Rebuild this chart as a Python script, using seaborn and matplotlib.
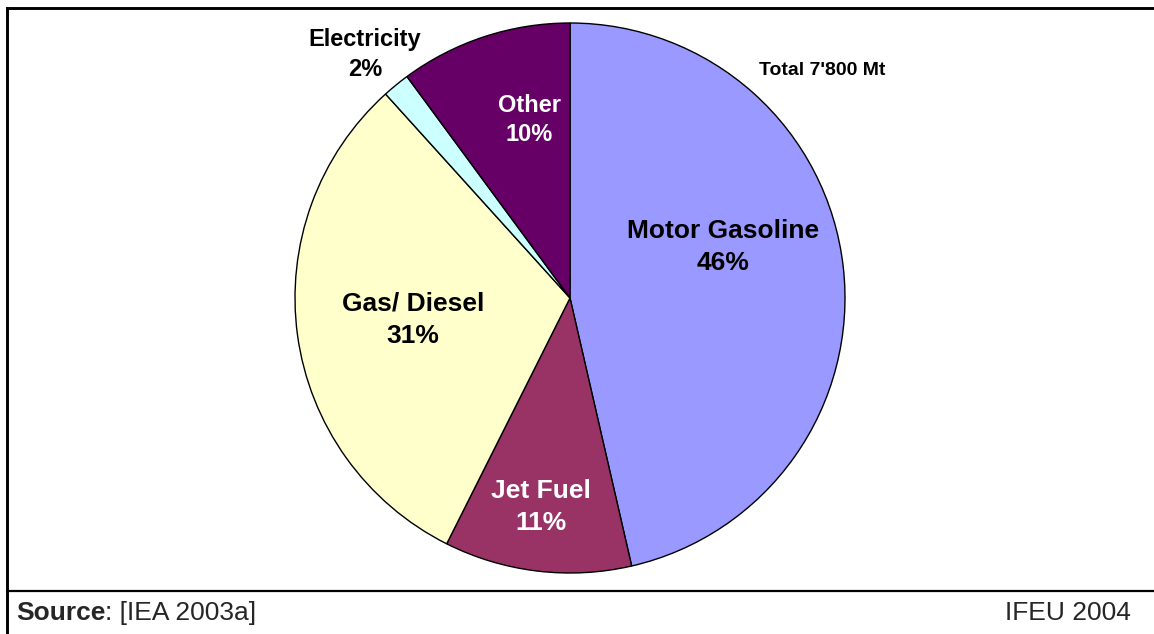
import matplotlib
matplotlib.use("Agg")
import matplotlib.pyplot as plt
import seaborn as sns
from matplotlib.lines import Line2D

categories = ["Motor Gasoline", "Jet Fuel", "Gas/ Diesel", "Electricity", "Other"]
shares = [46.4, 11.0, 30.9, 1.6, 10.1]
colors = ["#9999FF", "#993366", "#FFFFCC", "#CCFFFF", "#660066"]
label_colors = ["black", "white", "black", "black", "white"]
total_label = "Total 7'800 Mt"
source_bold = "Source"
source_rest = ": [IEA 2003a]"
credit = "IFEU 2004"

sns.set_theme(style="white")
plt.rcParams["font.family"] = ["Liberation Sans", "DejaVu Sans"]

W, H = 1154, 634
fig = plt.figure(figsize=(W / 100, H / 100), dpi=100)
fig.patch.set_facecolor("white")

# pie axes: centre (570, 298), radius 275 px
cx, cy, r = 570, 298, 275
ax = fig.add_axes([(cx - r) / W, (H - cy - r) / H, 2 * r / W, 2 * r / H])
ax.pie(shares, colors=colors, startangle=90, counterclock=False,
       radius=1.0, wedgeprops=dict(edgecolor="black", linewidth=1.0))
ax.set_xlim(-1.0, 1.0)
ax.set_ylim(-1.0, 1.0)
ax.set_aspect("auto")
ax.axis("off")

# label positions (in pie radius units) and sizes
label_pos = [(0.556, 0.185), (-0.105, -0.76), (-0.571, -0.08), (-0.745, 0.884), (-0.149, 0.647)]
label_sizes = [19, 19, 19, 17, 17]
label_spacing = [1.46, 1.38, 1.46, 1.39, 1.34]
for name, val, (lx, ly), c, fs, ls in zip(categories, shares, label_pos, label_colors,
                                          label_sizes, label_spacing):
    ax.text(lx, ly, f"{name}\n{val:.0f}%", ha="center", va="center", fontsize=fs,
            fontweight="bold", color=c, linespacing=ls, clip_on=False)

ax.text(0.916, 0.829, total_label, ha="center", va="center", fontsize=14,
        fontweight="bold", color="black", clip_on=False)

# frame lines
fig.add_artist(Line2D([7 / W, 7 / W], [0, 1 - 8 / H], color="black", lw=2.1,
                      transform=fig.transFigure, solid_capstyle="projecting"))
fig.add_artist(Line2D([7 / W, 1], [1 - 8 / H, 1 - 8 / H], color="black", lw=2.1,
                      transform=fig.transFigure, solid_capstyle="projecting"))
fig.add_artist(Line2D([7 / W, 1], [1 - 591 / H, 1 - 591 / H], color="black", lw=1.6,
                      transform=fig.transFigure))

t1 = fig.text(16 / W, 1 - 613 / H, source_bold, ha="left", va="center",
              fontsize=19, fontweight="bold")
fig.canvas.draw()
bb = t1.get_window_extent(renderer=fig.canvas.get_renderer())
fig.text(bb.x1 / W, 1 - 613 / H, source_rest, ha="left", va="center", fontsize=19)
fig.text(1131 / W, 1 - 613 / H, credit, ha="right", va="center", fontsize=19)

fig.savefig("out.png", dpi=100, facecolor="white")
